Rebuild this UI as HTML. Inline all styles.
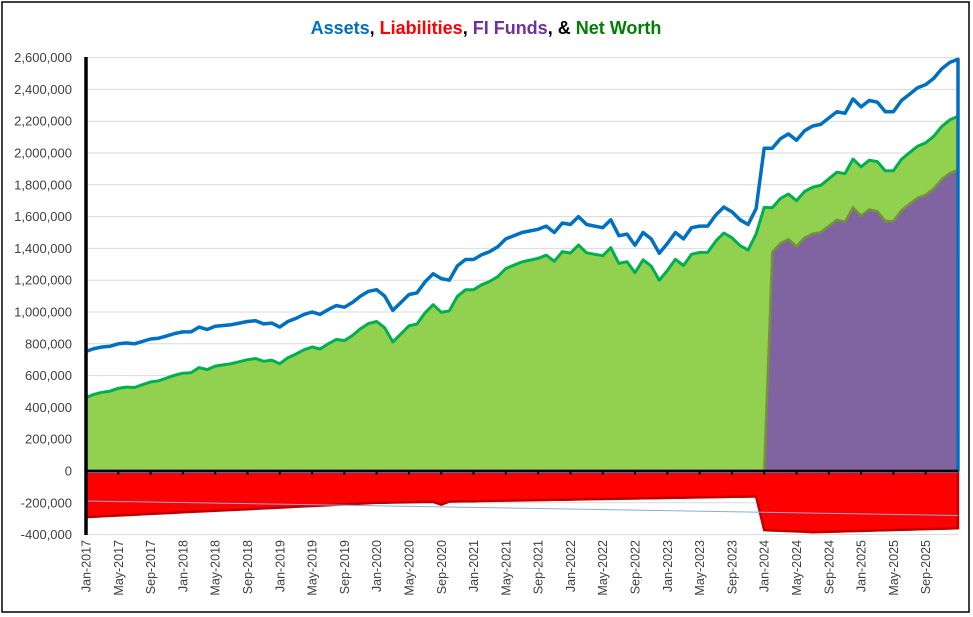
<!DOCTYPE html>
<html><head><meta charset="utf-8">
<style>
body{margin:0;background:#fff;}
svg{display:block;font-family:"Liberation Sans",sans-serif;}
</style></head>
<body>
<svg id="c" width="973" height="617" xmlns="http://www.w3.org/2000/svg">
<rect x="2" y="2" width="967" height="610" fill="#fff" stroke="#000" stroke-width="1.5"/>
<text x="486" y="34" text-anchor="middle" font-size="18" font-weight="bold"><tspan fill="#0070c0">Assets</tspan><tspan fill="#000">, </tspan><tspan fill="#ff0000">Liabilities</tspan><tspan fill="#000">, </tspan><tspan fill="#7030a0">FI Funds</tspan><tspan fill="#000">, &amp; </tspan><tspan fill="#008000">Net Worth</tspan></text>
<g id="g"></g>
</svg>
<script>
const svg=document.getElementById('g');
const X0=86,DX=8.074,Y0=471,SC=31.8/200;
const x=m=>X0+m*DX, y=v=>Y0-v*SC;
const A=[752,770,780,785,800,805,800,815,830,835,850,865,
875,875,905,890,910,915,920,930,940,945,925,930,
905,940,960,985,1000,985,1015,1040,1030,1060,1100,1130,
1140,1100,1010,1060,1110,1120,1190,1240,1210,1200,1290,1330,
1330,1360,1380,1410,1460,1480,1500,1510,1520,1540,1500,1560,
1550,1600,1550,1540,1530,1580,1480,1490,1420,1500,1460,1370,
1430,1500,1460,1530,1540,1540,1610,1660,1630,1580,1550,1650,
2030,2030,2090,2120,2080,2140,2170,2180,2220,2260,2250,2340,2290,2330,2320,2260,2260,2330,2370,2410,2430,2470,2530,2570,2590];
const N=A.length;
const L=[];
for(let m=0;m<N;m++){let v;
 if(m<=24)v=-290+60*m/24;
 else if(m<=36)v=-230+30*(m-24)/12;
 else if(m<84)v=-200+40*(m-36)/47;
 else if(m<90)v=-372-(m-84)*2;
 else v=-385+25*(m-90)/18;
 if(m==44)v=-212;
 L.push(v);}
const NW=A.map((a,i)=>a+L[i]);
const P=NW.map((n,m)=>m<=84?0:n-(280+(m-85)*2.5));
let h='';
for(let k=-2;k<=13;k++){const yy=y(k*200);
 h+=`<line x1="${X0}" x2="958" y1="${yy}" y2="${yy}" stroke="#d9d9d9" stroke-width="1"/>`;
 const lab=(k*200000).toLocaleString('en-US');
 h+=`<text x="72" y="${yy+4.5}" text-anchor="end" font-size="13" fill="#404040">${lab}</text>`;}
const pts=(arr)=>arr.map((v,i)=>`${x(i).toFixed(1)},${y(v).toFixed(1)}`).join(' ');
h+=`<polygon points="${x(0)},${Y0} ${pts(NW)} ${x(N-1)},${Y0}" fill="#92d050" stroke="#00b050" stroke-width="3" stroke-linejoin="round"/>`;
h+=`<polygon points="${x(0)},${Y0} ${pts(P)} ${x(N-1)},${Y0}" fill="#8064a2" stroke="#76933c" stroke-width="2.5"/>`;
h+=`<polygon points="${x(0)},${Y0} ${pts(L)} ${x(N-1)},${Y0}" fill="#ff0000" stroke="#c00000" stroke-width="2.5"/>`;
h+=`<line x1="${X0}" y1="501" x2="958" y2="515.5" stroke="#8faadc" stroke-width="1"/>`;
h+=`<polyline points="${pts(A)} ${x(N-1)},${Y0}" fill="none" stroke="#0070c0" stroke-width="3.5" stroke-linejoin="round"/>`;
h+=`<line x1="${X0}" x2="958" y1="${Y0}" y2="${Y0}" stroke="#000" stroke-width="2.5"/>`;
h+=`<line x1="${X0}" x2="958" y1="${Y0+1.5}" y2="${Y0+1.5}" stroke="#2e75b6" stroke-width="1"/>`;
h+=`<line x1="${X0}" x2="${X0}" y1="57" y2="535" stroke="#000" stroke-width="3.5"/>`;
const mn=['Jan','May','Sep'];
for(let m=0;m<108;m+=4){const xx=x(m);
 h+=`<line x1="${xx}" x2="${xx}" y1="${Y0}" y2="${Y0+4}" stroke="#000" stroke-width="2"/>`;
 const lab=mn[(m/4)%3]+'-'+(2017+Math.floor(m/12));
 h+=`<text transform="translate(${xx+4.5},540) rotate(-90)" text-anchor="end" font-size="12.5" fill="#404040">${lab}</text>`;}
svg.innerHTML=h;
</script>
</body></html>
